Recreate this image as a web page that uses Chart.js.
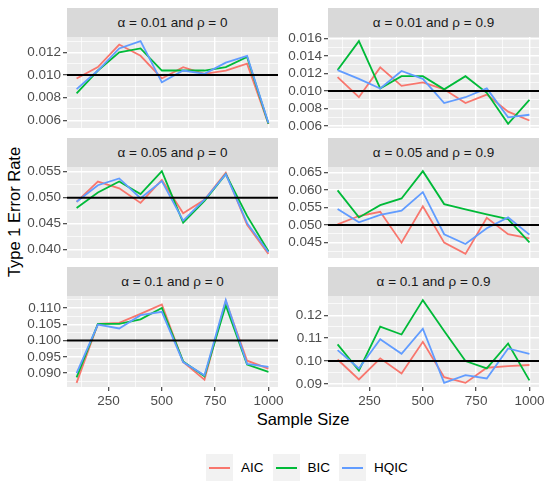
<!DOCTYPE html>
<html><head><meta charset="utf-8">
<script src="https://cdn.jsdelivr.net/npm/chart.js@4.4.1/dist/chart.umd.min.js"></script>
<style>
html,body{margin:0;padding:0;}
body{width:550px;height:487px;background:#fff;position:relative;overflow:hidden;font-family:"Liberation Sans",Arial,sans-serif;}
.box{position:absolute;}
.strip{position:absolute;background:#D9D9D9;color:#1A1A1A;font-size:13.5px;text-align:center;height:29px;line-height:29px;width:211px;}
.ytitle{position:absolute;left:14px;top:212px;transform:translate(-50%,-50%) rotate(-90deg);font-size:16.5px;color:#000;white-space:nowrap;}
.xtitle{position:absolute;left:303px;top:419px;transform:translate(-50%,-50%);font-size:16.5px;color:#000;white-space:nowrap;}
.legend{position:absolute;left:206px;top:454px;display:flex;align-items:center;height:27px;font-size:13.5px;color:#000;}
.key{width:27px;height:27px;background:#F2F2F2;position:relative;margin-right:8px;}
.key span{position:absolute;left:3px;right:3px;top:12.5px;height:2px;}
.lab{margin-right:9px;}
</style></head><body>
<div class="ytitle">Type 1 Error Rate</div>
<div class="xtitle">Sample Size</div>
<div class="legend" id="legend"></div>
<script>
// ---- data ----
const sampleSizes = [100,200,300,400,500,600,700,800,900,1000];
const seriesNames = ["AIC","BIC","HQIC"];
const seriesColors = ["#F8766D","#00BA38","#619CFF"];
const panelTitles = ["α = 0.01 and ρ = 0","α = 0.01 and ρ = 0.9","α = 0.05 and ρ = 0","α = 0.05 and ρ = 0.9","α = 0.1 and ρ = 0","α = 0.1 and ρ = 0.9"];
const alphaLevels = [0.01,0.01,0.05,0.05,0.1,0.1];

const aic_a01_r0  = [0.0097,0.0107,0.0127,0.0117,0.0097,0.0107,0.0101,0.0104,0.0110,0.00568];
const bic_a01_r0  = [0.00838,0.0104,0.0120,0.01235,0.0104,0.0104,0.0104,0.0107,0.0116,0.0057];
const hqic_a01_r0 = [0.00876,0.0104,0.01235,0.0130,0.00935,0.0104,0.0101,0.0111,0.0117,0.00576];

const aic_a01_r9  = [0.0116,0.0093,0.0127,0.0106,0.0110,0.0102,0.00864,0.0096,0.00766,0.00664];
const bic_a01_r9  = [0.0124,0.0157,0.0103,0.0117,0.0117,0.0102,0.0117,0.0098,0.00626,0.0090];
const hqic_a01_r9 = [0.0124,0.0114,0.0103,0.0123,0.0114,0.00864,0.0093,0.0103,0.0070,0.0073];

const aic_a05_r0  = [0.0492,0.0531,0.0518,0.0490,0.0534,0.0470,0.0496,0.0548,0.0448,0.0392];
const bic_a05_r0  = [0.0480,0.0510,0.0531,0.0507,0.0551,0.0452,0.0494,0.0545,0.0465,0.0397];
const hqic_a05_r0 = [0.0492,0.0524,0.0537,0.0499,0.0532,0.0456,0.0496,0.0545,0.0451,0.0395];

const aic_a05_r9  = [0.0502,0.0526,0.0538,0.0450,0.0554,0.0450,0.0418,0.0521,0.0474,0.0462];
const bic_a05_r9  = [0.0599,0.0522,0.0557,0.0576,0.0654,0.0560,0.0545,0.0531,0.0517,0.0451];
const hqic_a05_r9 = [0.0546,0.0508,0.0529,0.0541,0.0594,0.0474,0.0446,0.0491,0.0522,0.0473];

const aic_a10_r0  = [0.0870,0.1051,0.1054,0.1082,0.1111,0.0934,0.0880,0.1121,0.0938,0.0914];
const bic_a10_r0  = [0.0887,0.1051,0.1051,0.1065,0.1100,0.0936,0.0890,0.1108,0.0926,0.0904];
const hqic_a10_r0 = [0.0900,0.1049,0.1037,0.1078,0.1088,0.0934,0.0893,0.1124,0.0928,0.0919];

const aic_a10_r9  = [0.1007,0.0920,0.1012,0.0946,0.1084,0.0930,0.0905,0.0971,0.0978,0.0983];
const bic_a10_r9  = [0.1073,0.0959,0.1150,0.1116,0.1266,0.1131,0.1000,0.0968,0.1077,0.0916];
const hqic_a10_r9 = [0.1048,0.0968,0.1095,0.1032,0.1141,0.0905,0.0939,0.0924,0.1055,0.1032];

const xTickLabels = ["250","500","750","1000"];
const yTickLabels_p1 = ["0.006","0.008","0.010","0.012"];
const yTickLabels_p2 = ["0.006","0.008","0.010","0.012","0.014","0.016"];
const yTickLabels_p3 = ["0.040","0.045","0.050","0.055"];
const yTickLabels_p4 = ["0.045","0.050","0.055","0.060","0.065"];
const yTickLabels_p5 = ["0.090","0.095","0.100","0.105","0.110"];
const yTickLabels_p6 = ["0.09","0.10","0.11","0.12"];

const panelSeries = [
  [aic_a01_r0,bic_a01_r0,hqic_a01_r0],
  [aic_a01_r9,bic_a01_r9,hqic_a01_r9],
  [aic_a05_r0,bic_a05_r0,hqic_a05_r0],
  [aic_a05_r9,bic_a05_r9,hqic_a05_r9],
  [aic_a10_r0,bic_a10_r0,hqic_a10_r0],
  [aic_a10_r9,bic_a10_r9,hqic_a10_r9]
];
const panelYTicks = [yTickLabels_p1,yTickLabels_p2,yTickLabels_p3,yTickLabels_p4,yTickLabels_p5,yTickLabels_p6];

// ---- layout ----
const colLefts = [67,328];
const axisWidths = [67,50];
const rowTops = [37,167,296];
const stripTops = [8,138,267];
const PW = 211, PH = 91, PAD = 12;

// legend
const leg = document.getElementById('legend');
seriesNames.forEach((n,i)=>{
  const k=document.createElement('div');k.className='key';
  const s=document.createElement('span');s.style.background=seriesColors[i];k.appendChild(s);
  const t=document.createElement('div');t.className='lab';t.textContent=n;
  leg.appendChild(k);leg.appendChild(t);
});

const bgPlugin = {id:'panelBg',beforeDraw(chart){const a=chart.chartArea,c=chart.ctx;c.save();c.fillStyle='#EBEBEB';c.fillRect(a.left,a.top,a.right-a.left,a.bottom-a.top);c.restore();}};

function near(v,arr){return arr.some(a=>Math.abs(a-v)<1e-9);}

function makePanel(i){
  const col=i%2,row=Math.floor(i/2);
  const bottom=row===2;
  const axisW=axisWidths[col];
  const xH=bottom?22:0;
  const strip=document.createElement('div');strip.className='strip';
  strip.style.left=colLefts[col]+'px';strip.style.top=stripTops[row]+'px';strip.textContent=panelTitles[i];
  document.body.appendChild(strip);
  const box=document.createElement('div');box.className='box';
  box.style.left=(colLefts[col]-axisW-PAD)+'px';box.style.top=(rowTops[row]-PAD)+'px';
  box.style.width=(PAD+axisW+PW+PAD)+'px';box.style.height=(PAD+PH+xH+PAD)+'px';
  const cv=document.createElement('canvas');box.appendChild(cv);document.body.appendChild(box);

  const series=panelSeries[i];
  const all=series.flat();
  const lo=Math.min(...all),hi=Math.max(...all),ex=(hi-lo)*0.05;
  const yMin=lo-ex,yMax=hi+ex;
  const yLabels=panelYTicks[i];
  const yMajors=yLabels.map(parseFloat);
  const step=yMajors[1]-yMajors[0];
  const yAll=[];
  yMajors.forEach(v=>yAll.push(v));
  [yMajors[0]-step/2,...yMajors.map(v=>v+step/2)].forEach(v=>{if(v>=yMin&&v<=yMax)yAll.push(v);});
  yAll.sort((a,b)=>a-b);
  const xMajors=xTickLabels.map(parseFloat);
  const xAll=[125,250,375,500,625,750,875,1000];

  const datasets=series.map((d,k)=>({
    label:seriesNames[k],
    data:sampleSizes.map((x,j)=>({x:x,y:d[j]})),
    borderColor:seriesColors[k],borderWidth:1.8,pointRadius:0,fill:false,tension:0,order:3-k
  }));
  datasets.push({label:'alpha',data:[{x:55,y:alphaLevels[i]},{x:1045,y:alphaLevels[i]}],
    borderColor:'#000',borderWidth:2,pointRadius:0,fill:false,order:0});

  new Chart(cv,{
    type:'line',
    data:{datasets},
    plugins:[bgPlugin],
    options:{
      responsive:true,maintainAspectRatio:false,animation:false,
      layout:{padding:PAD},
      plugins:{legend:{display:false},tooltip:{enabled:false}},
      scales:{
        x:{type:'linear',min:55,max:1045,
          afterBuildTicks:s=>{s.ticks=xAll.map(v=>({value:v}));},
          afterFit:s=>{s.height=xH;},
          border:{display:false},
          grid:{color:'#FFFFFF',lineWidth:c=>near(c.tick.value,xMajors)?1.4:0.7,
            drawTicks:bottom,tickLength:4,tickWidth:1.1,
            tickColor:c=>near(c.tick.value,xMajors)?'#333333':'rgba(0,0,0,0)'},
          ticks:{display:bottom,autoSkip:false,maxRotation:0,padding:2,color:'#4D4D4D',
            font:{family:'"Liberation Sans", Arial, sans-serif',size:13.5},
            callback:v=>{const k=xMajors.findIndex(a=>Math.abs(a-v)<1e-9);return k>=0?xTickLabels[k]:'';}}
        },
        y:{type:'linear',min:yMin,max:yMax,
          afterBuildTicks:s=>{s.ticks=yAll.map(v=>({value:v}));},
          afterFit:s=>{s.width=axisW;},
          border:{display:false},
          grid:{color:'#FFFFFF',lineWidth:c=>near(c.tick.value,yMajors)?1.4:0.7,
            drawTicks:true,tickLength:4,tickWidth:1.1,
            tickColor:c=>near(c.tick.value,yMajors)?'#333333':'rgba(0,0,0,0)'},
          ticks:{autoSkip:false,padding:2,color:'#4D4D4D',
            font:{family:'"Liberation Sans", Arial, sans-serif',size:13.5},
            callback:v=>{const k=yMajors.findIndex(a=>Math.abs(a-v)<1e-9);return k>=0?yLabels[k]:'';}}
        }
      }
    }
  });
}
for(let i=0;i<6;i++)makePanel(i);
</script>
</body></html>
